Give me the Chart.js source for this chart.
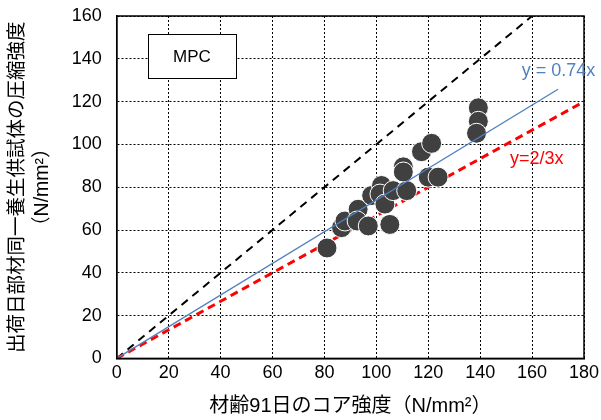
<!DOCTYPE html>
<html lang="ja">
<head>
<meta charset="UTF-8">
<title>MPC</title>
<script src="https://cdn.jsdelivr.net/npm/chart.js"></script>
<style>
    body { margin: 0; background: #fff; }
    #wrap { width: 601px; height: 420px; }
</style>
</head>
<body>
<div id="wrap"><canvas id="myChart"></canvas></div>
<script>
// 材齢91日のコア強度 (x) と 出荷日部材同一養生供試体の圧縮強度 (y)
const coreStrength = [81, 86.6, 87.9, 93, 92.6, 96.9, 105.2, 98.2, 102, 101.4, 103.3, 106.5, 111.7, 110.4, 110.4, 117.4, 121.3, 120, 123.8, 139.3, 139.3, 138.6];
const specimenStrength = [51.6, 61.1, 64.2, 69.7, 64.2, 61.9, 62.6, 76.1, 80.8, 76.8, 72.1, 78.4, 78.4, 89.5, 87.1, 96.6, 100.5, 84.7, 84.7, 117.1, 110.8, 105.2];

// reference lines (end points)
const lineOneX = [0, 160];
const lineOneY = [0, 160];
const lineFitX = [0, 170];
const lineFitY = [0, 125.8];
const lineTwoThirdsX = [0, 180];
const lineTwoThirdsY = [0, 120];

const xTicks = [0, 20, 40, 60, 80, 100, 120, 140, 160, 180];
const yTicks = [0, 20, 40, 60, 80, 100, 120, 140, 160];

const FONT = "'Liberation Sans', Arial, 'Noto Sans CJK JP', sans-serif";

function toPoints(xs, ys) {
    return xs.map((x, i) => ({ x: x, y: ys[i] }));
}

// labels + MPC box + frame
const overlay = {
    id: 'overlay',
    afterDraw(chart) {
        const c = chart.ctx;
        const a = chart.chartArea;
        const xs = chart.scales.x, ys = chart.scales.y;
        c.save();
        // frame
        c.strokeStyle = '#000';
        c.lineWidth = 1.5;
        c.strokeRect(a.left, a.top, a.right - a.left, a.bottom - a.top);
        // MPC box
        const bx = Math.round(xs.getPixelForValue(12)), by = Math.round(ys.getPixelForValue(151.5));
        c.fillStyle = '#fff';
        c.fillRect(bx, by, 88, 44);
        c.lineWidth = 1;
        c.strokeRect(bx + 0.5, by + 0.5, 88, 44);
        c.fillStyle = '#000';
        c.font = '17px ' + FONT;
        c.textAlign = 'center';
        c.textBaseline = 'middle';
        c.fillText('MPC', bx + 44, by + 23);
        // equations
        c.font = '18px ' + FONT;
        c.textAlign = 'left';
        c.fillStyle = '#4f81bd';
        c.fillText('y = 0.74x', xs.getPixelForValue(156), ys.getPixelForValue(134.5));
        c.fillStyle = '#ff0000';
        c.fillText('y=2/3x', xs.getPixelForValue(151.5), ys.getPixelForValue(93));
        c.restore();
    }
};

// keep the plot area where the layout padding puts it
function noEdgePadding(s) {
    s.paddingTop = 0;
    s.paddingBottom = 0;
    s.paddingLeft = 0;
    s.paddingRight = 0;
}

const ctx = document.getElementById('myChart').getContext('2d');
const myChart = new Chart(ctx, {
    type: 'scatter',
    data: {
        datasets: [
            {
                label: 'y = 0.74x',
                data: toPoints(lineFitX, lineFitY),
                showLine: true,
                borderColor: '#4f81bd',
                borderWidth: 1.3,
                pointRadius: 0
            },
            {
                label: 'MPC',
                data: toPoints(coreStrength, specimenStrength),
                backgroundColor: '#404040',
                borderColor: '#ffffff',
                borderWidth: 1,
                pointRadius: 10,
                pointHoverRadius: 10
            },
            {
                label: 'y=2/3x',
                data: toPoints(lineTwoThirdsX, lineTwoThirdsY),
                showLine: true,
                borderColor: '#ff0000',
                borderWidth: 3,
                borderDash: [8, 5],
                pointRadius: 0
            },
            {
                label: 'y=x',
                data: toPoints(lineOneX, lineOneY),
                showLine: true,
                borderColor: '#000000',
                borderWidth: 2,
                borderDash: [8, 6],
                pointRadius: 0
            }
        ]
    },
    options: {
        responsive: true,
        maintainAspectRatio: false,
        animation: false,
        layout: { padding: { top: 16, right: 17, left: 5, bottom: 2 } },
        plugins: {
            legend: { display: false },
            tooltip: { enabled: false }
        },
        scales: {
            x: {
                type: 'linear',
                min: 0,
                max: 180,
                afterBuildTicks: (s) => { s.ticks = xTicks.map(v => ({ value: v })); },
                afterFit: noEdgePadding,
                grid: { color: '#000', lineWidth: 1, drawTicks: false },
                border: { display: true, color: '#000', width: 1.5, dash: [2, 2] },
                ticks: { color: '#000', font: { size: 18, family: FONT }, padding: 4, maxRotation: 0 },
                title: {
                    display: true,
                    text: '材齢91日のコア強度（N/mm²）',
                    color: '#000',
                    font: { size: 20, family: FONT },
                    padding: { top: 6, bottom: 0 }
                }
            },
            y: {
                type: 'linear',
                min: 0,
                max: 160,
                afterBuildTicks: (s) => { s.ticks = yTicks.map(v => ({ value: v })); },
                afterFit: noEdgePadding,
                grid: { color: '#000', lineWidth: 1, drawTicks: false },
                border: { display: true, color: '#000', width: 1.5, dash: [2, 2] },
                ticks: { color: '#000', font: { size: 18, family: FONT }, padding: 15 },
                title: {
                    display: true,
                    text: ['出荷日部材同一養生供試体の圧縮強度', '（N/mm²）'],
                    color: '#000',
                    font: { size: 19.5, family: FONT, lineHeight: 1.3 },
                    padding: { top: 0, bottom: 1 }
                }
            }
        }
    },
    plugins: [overlay]
});
</script>
</body>
</html>
